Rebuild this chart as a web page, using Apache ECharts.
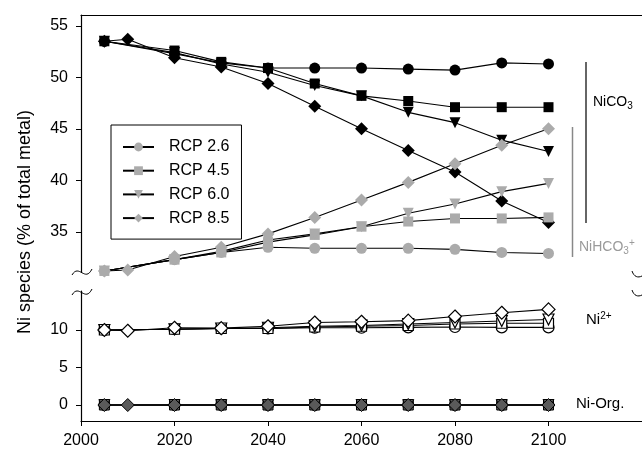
<!DOCTYPE html>
<html>
<head>
<meta charset="utf-8">
<script src="https://cdn.jsdelivr.net/npm/echarts@6/dist/echarts.min.js"></script>
<style>
  html, body { margin: 0; padding: 0; background: #fff; }
  #chart { width: 642px; height: 449px; }
</style>
</head>
<body>
<div id="chart"></div>
<script>
// years sampled; RCP 8.5 has an extra point at 2010
const yearsA = [2005, 2020, 2030, 2040, 2050, 2060, 2070, 2080, 2090, 2100];
const yearsB = [2005, 2010, 2020, 2030, 2040, 2050, 2060, 2070, 2080, 2090, 2100];
const scenarios = ['RCP 2.6', 'RCP 4.5', 'RCP 6.0', 'RCP 8.5'];
const yearTicks = [2000, 2020, 2040, 2060, 2080, 2100];
const upperTicks = [35, 40, 45, 50, 55];
const lowerTicks = [0, 5, 10];

// NiCO3 (black markers)
const nico3 = [
  [53.5, 52.3, 51.4, 50.9, 50.9, 50.9, 50.8, 50.7, 51.4, 51.3],
  [53.5, 52.6, 51.5, 50.9, 49.4, 48.2, 47.7, 47.1, 47.1, 47.1],
  [53.5, 52.4, 51.3, 50.5, 49.2, 48.2, 46.6, 45.6, 43.9, 42.8],
  [53.5, 53.7, 51.9, 51.0, 49.4, 47.2, 45.0, 42.9, 40.8, 38.0, 35.9]
];
// NiHCO3+ (grey markers)
const nihco3 = [
  [31.2, 32.3, 33.0, 33.5, 33.4, 33.4, 33.4, 33.3, 33.0, 32.9],
  [31.2, 32.3, 33.0, 34.0, 34.7, 35.5, 36.0, 36.3, 36.3, 36.4],
  [31.2, 32.3, 33.1, 34.2, 34.8, 35.5, 36.8, 37.7, 38.9, 39.7],
  [31.2, 31.3, 32.6, 33.5, 34.8, 36.4, 38.1, 39.8, 41.6, 43.4, 45.0]
];
// Ni2+ (white markers)
const ni2 = [
  [10.0, 10.1, 10.2, 10.2, 10.3, 10.3, 10.35, 10.4, 10.35, 10.35],
  [10.0, 10.1, 10.2, 10.2, 10.4, 10.5, 10.6, 10.8, 10.9, 10.9],
  [10.0, 10.1, 10.2, 10.3, 10.5, 10.6, 10.8, 11.0, 11.2, 11.4],
  [10.0, 9.9, 10.3, 10.25, 10.5, 11.0, 11.1, 11.25, 11.8, 12.3, 12.75]
];
// Ni-Org. (dark grey markers)
const niOrg = [
  [0, 0, 0, 0, 0, 0, 0, 0, 0, 0],
  [0, 0, 0, 0, 0, 0, 0, 0, 0, 0],
  [0, 0, 0, 0, 0, 0, 0, 0, 0, 0],
  [0, 0, 0, 0, 0, 0, 0, 0, 0, 0, 0]
];

const FONT = "'Liberation Sans', Arial, sans-serif";
const shapes = [
  { symbol: 'circle', size: 11, rotate: 0 },
  { symbol: 'rect', size: 10, rotate: 0 },
  { symbol: 'triangle', size: 11, rotate: 180 },
  { symbol: 'diamond', size: 13, rotate: 0 }
];

function makeSeries(prefix, grid, values, fill, border, borderWidth) {
  return values.map((vals, i) => {
    const years = i === 3 ? yearsB : yearsA;
    return {
      name: prefix ? prefix + ' ' + scenarios[i] : scenarios[i],
      type: 'line',
      xAxisIndex: grid,
      yAxisIndex: grid,
      data: years.map((y, k) => [y, vals[k]]),
      symbol: shapes[i].symbol,
      symbolSize: shapes[i].size,
      symbolRotate: shapes[i].rotate,
      showAllSymbol: true,
      lineStyle: { color: '#000', width: 1.1 },
      itemStyle: { color: fill, borderColor: border, borderWidth: borderWidth },
      emphasis: { disabled: true },
      animation: false
    };
  });
}

const series = [].concat(
  makeSeries('NiCO3', 0, nico3, '#000', '#000', 0),
  makeSeries('', 0, nihco3, '#ababab', '#ababab', 0),
  makeSeries('Ni2+', 1, ni2, '#fff', '#000', 1.2),
  makeSeries('NiOrg', 1, niOrg, '#5a5a5a', '#000', 1)
);

// tilde-shaped axis break mark
function breakMark(x, y) {
  return {
    type: 'bezierCurve',
    shape: { x1: x, y1: y + 3, cpx1: x + 7, cpy1: y - 9, cpx2: x + 13, cpy2: y + 11, x2: x + 20, y2: y - 3 },
    style: { stroke: '#000', fill: null, lineWidth: 1 }
  };
}
function rightMark(x, y) {
  return {
    type: 'bezierCurve',
    shape: { x1: x, y1: y - 2, cpx1: x + 2, cpy1: y + 4, cpx2: x + 6, cpy2: y + 5, x2: x + 10, y2: y + 3 },
    style: { stroke: '#000', fill: null, lineWidth: 1 }
  };
}

const myChart = echarts.init(document.querySelector('#chart'));

const tickLabel = { fontSize: 16, color: '#000', fontFamily: FONT };

myChart.setOption({
  backgroundColor: '#fff',
  animation: false,
  grid: [
    { left: 81, right: 0, top: 15, height: 257 },
    { left: 81, right: 0, top: 291, height: 130 }
  ],
  xAxis: [
    {
      type: 'value', gridIndex: 0, min: 2000, max: 2120, position: 'top',
      axisLine: { show: true, onZero: false, lineStyle: { color: '#000', width: 1.2 } },
      axisTick: { show: false }, axisLabel: { show: false }, splitLine: { show: false }
    },
    {
      type: 'value', gridIndex: 1, min: 2000, max: 2120, position: 'bottom',
      axisLine: { show: true, onZero: false, lineStyle: { color: '#000', width: 1.2 } },
      axisTick: { show: true, length: 5, customValues: yearTicks, lineStyle: { color: '#000' } },
      axisLabel: Object.assign({ customValues: yearTicks, margin: 12, formatter: (v) => String(v) }, tickLabel),
      splitLine: { show: false }
    }
  ],
  yAxis: [
    {
      type: 'value', gridIndex: 0, min: 31.1, max: 56.05,
      axisLine: { show: true, onZero: false, lineStyle: { color: '#000', width: 1.2 } },
      axisTick: { show: true, length: 5, customValues: upperTicks, lineStyle: { color: '#000' } },
      axisLabel: Object.assign({ customValues: upperTicks, margin: 13 }, tickLabel),
      splitLine: { show: false }
    },
    {
      type: 'value', gridIndex: 1, min: -2.13, max: 15.2,
      axisLine: { show: true, onZero: false, lineStyle: { color: '#000', width: 1.2 } },
      axisTick: { show: true, length: 5, customValues: lowerTicks, lineStyle: { color: '#000' } },
      axisLabel: Object.assign({ customValues: lowerTicks, margin: 13 }, tickLabel),
      splitLine: { show: false }
    }
  ],
  legend: {
    orient: 'vertical', left: 111, top: 125,
    data: scenarios,
    itemWidth: 31, itemHeight: 11, itemGap: 7.7,
    padding: [14, 12, 13, 11],
    borderColor: '#000', borderWidth: 1, backgroundColor: '#fff',
    selectedMode: false,
    textStyle: { fontSize: 16, color: '#000', fontFamily: FONT, lineHeight: 12, padding: [0, 0, 0, 10] }
  },
  graphic: [
    // y axis title
    {
      type: 'text', x: 25, y: 222, rotation: Math.PI / 2,
      style: { text: 'Ni species (% of total metal)', font: '18px ' + FONT, fill: '#000', align: 'center', verticalAlign: 'middle' }
    },
    // group bars
    { type: 'line', shape: { x1: 586, y1: 62, x2: 586, y2: 223 }, style: { stroke: '#333', lineWidth: 1.5 } },
    { type: 'line', shape: { x1: 572.5, y1: 127, x2: 572.5, y2: 257 }, style: { stroke: '#888', lineWidth: 1.5 } },
    // species labels
    {
      type: 'text', x: 593, y: 102,
      style: {
        text: '{m|NiCO}{s|3}', verticalAlign: 'middle', fill: '#000',
        rich: { m: { fontSize: 14, fontFamily: FONT, lineHeight: 18 }, s: { fontSize: 10, fontFamily: FONT, verticalAlign: 'bottom' } }
      }
    },
    {
      type: 'text', x: 579, y: 247,
      style: {
        text: '{m|NiHCO}{s|3}{p|+}', verticalAlign: 'middle', fill: '#9a9a9a',
        rich: {
          m: { fontSize: 14, fontFamily: FONT, lineHeight: 18, color: '#9a9a9a' },
          s: { fontSize: 10, fontFamily: FONT, verticalAlign: 'bottom', color: '#9a9a9a' },
          p: { fontSize: 10, fontFamily: FONT, verticalAlign: 'top', color: '#9a9a9a' }
        }
      }
    },
    {
      type: 'text', x: 586, y: 320,
      style: {
        text: '{m|Ni}{p|2+}', verticalAlign: 'middle', fill: '#000',
        rich: { m: { fontSize: 15, fontFamily: FONT, lineHeight: 18 }, p: { fontSize: 10, fontFamily: FONT, verticalAlign: 'top' } }
      }
    },
    {
      type: 'text', x: 576, y: 404,
      style: { text: 'Ni-Org.', font: '15px ' + FONT, fill: '#000', verticalAlign: 'middle' }
    },
    // axis break marks
    breakMark(72, 272),
    breakMark(72, 292),
    rightMark(632, 273),
    rightMark(632, 292)
  ],
  series: series
});
</script>
</body>
</html>
